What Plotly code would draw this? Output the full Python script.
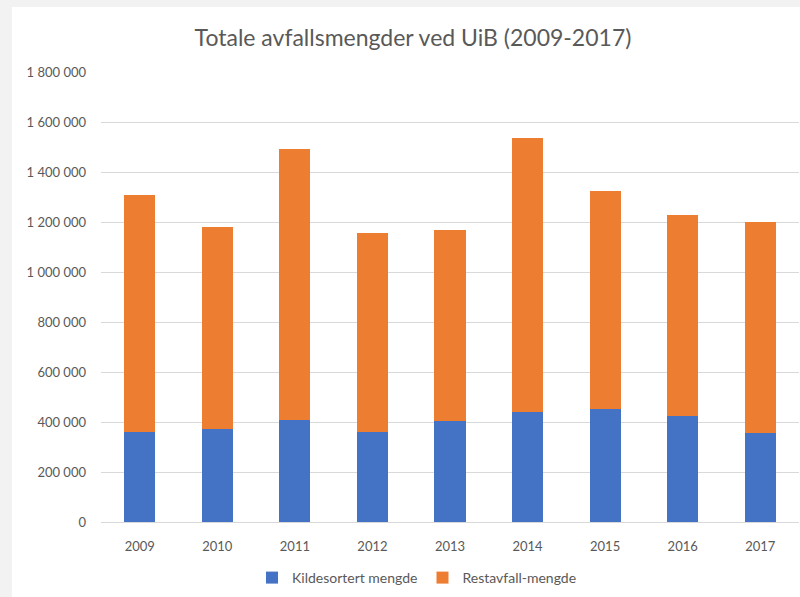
import plotly.graph_objects as go

years = ["2009", "2010", "2011", "2012", "2013", "2014", "2015", "2016", "2017"]
kildesortert = [360000, 371000, 409000, 360000, 403000, 441000, 451000, 425000, 355000]
restavfall = [947000, 809000, 1085000, 795000, 767000, 1095000, 872000, 802000, 845000]
tick_vals = [0, 200000, 400000, 600000, 800000, 1000000, 1200000, 1400000, 1600000, 1800000]
tick_text = ["0", "200 000", "400 000", "600 000", "800 000", "1 000 000",
             "1 200 000", "1 400 000", "1 600 000", "1 800 000"]

FONT = "Lato, 'Open Sans', sans-serif"
GREY = "#595959"

fig = go.Figure()
fig.add_trace(go.Bar(x=years, y=kildesortert, name="Kildesortert mengde",
                     marker=dict(color="#4472C4", line=dict(width=0))))
fig.add_trace(go.Bar(x=years, y=restavfall, name="Restavfall-mengde",
                     marker=dict(color="#ED7D31", line=dict(width=0))))

W, H = 800, 597
ml, mr, mt, mb = 101, 1, 72, 75
pw = W - ml - mr
ph = H - mt - mb

fig.update_layout(
    width=W, height=H,
    barmode="stack", bargap=0.6,
    paper_bgcolor="#f2f2f2", plot_bgcolor="white",
    margin=dict(l=ml, r=mr, t=mt, b=mb),
    font=dict(family=FONT, color=GREY, size=13),
    title=dict(text="Totale avfallsmengder ved UiB (2009-2017)",
               font=dict(family=FONT, size=23, color=GREY),
               x=413 / W, xref="container", xanchor="center",
               y=1 - 38 / H, yref="container", yanchor="middle"),
    legend=dict(orientation="h", xref="container", yref="container",
                x=417 / W, xanchor="center", y=(H - 578) / H, yanchor="middle",
                traceorder="normal",
                font=dict(family=FONT, size=14, color=GREY),
                bgcolor="rgba(0,0,0,0)", itemwidth=30),
    xaxis=dict(showgrid=False, showline=True, linecolor="#d9d9d9", linewidth=1,
               ticks="", tickfont=dict(size=13, color=GREY), ticklabelstandoff=12),
    yaxis=dict(range=[0, 1800000], tickvals=tick_vals, ticktext=tick_text,
               showgrid=True, gridcolor="#d9d9d9", gridwidth=1,
               zeroline=False, showline=False, ticks="",
               tickfont=dict(size=13, color=GREY), ticklabelstandoff=14),
    shapes=[dict(type="rect", xref="paper", yref="paper", layer="below",
                 x0=(12 - ml) / pw, x1=1 + mr / pw,
                 y0=-mb / ph, y1=(H - mb - 7) / ph,
                 fillcolor="white", line=dict(width=0))],
)
fig.write_html(
    "out.html",
    config={"displayModeBar": False},
    post_script="document.body.style.margin='0';document.body.style.padding='0';"
                "document.body.style.background='#f2f2f2';"
                "document.documentElement.style.overflow='hidden';",
)
